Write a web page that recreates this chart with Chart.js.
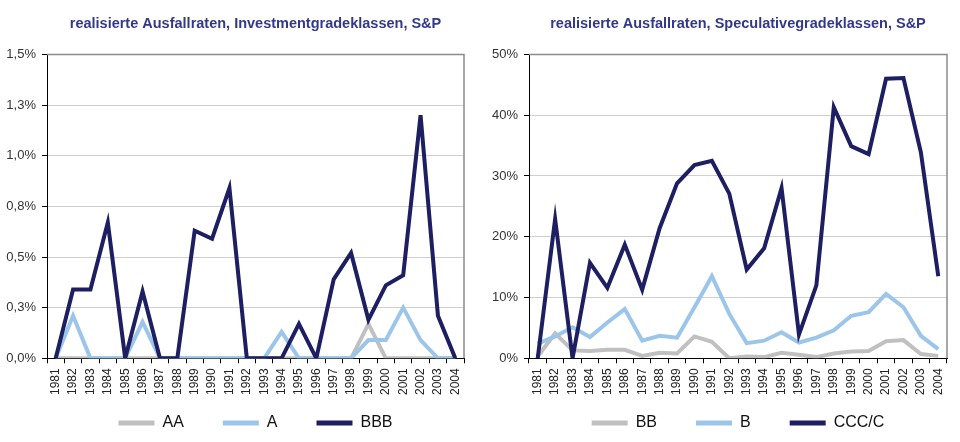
<!DOCTYPE html>
<html>
<head>
<meta charset="utf-8">
<script src="https://cdn.jsdelivr.net/npm/chart.js@4/dist/chart.umd.min.js"></script>
<style>
  body { margin: 0; background: #fff; }
  .wrap { display: flex; width: 960px; height: 442px; }
  .box { position: relative; width: 480px; height: 442px; }
</style>
</head>
<body>
<div class="wrap">
  <div class="box"><canvas id="chartInv"></canvas></div>
  <div class="box"><canvas id="chartSpec"></canvas></div>
</div>
<script>
// Jahre
const years = ['1981','1982','1983','1984','1985','1986','1987','1988','1989','1990','1991','1992',
               '1993','1994','1995','1996','1997','1998','1999','2000','2001','2002','2003','2004'];

// Investmentgrade (in %)
const aa  = [0,0,0,0,0,0,0,0,0,0,0,0,0,0,0,0,0,0,0.17,0,0,0,0,0];
const a   = [0,0.21,0,0,0,0.18,0,0,0,0,0,0,0,0.13,0,0,0,0,0.09,0.09,0.25,0.09,0,0];
const bbb = [0,0.34,0.34,0.67,0,0.33,0,0,0.63,0.59,0.84,0,0,0,0.17,0,0.39,0.52,0.19,0.36,0.41,1.2,0.21,0];

// Speculativegrade (in %)
const bb  = [0.3,4.1,1.3,1.2,1.4,1.4,0.4,0.9,0.8,3.6,2.7,0,0.3,0.2,0.9,0.6,0.2,0.8,1.1,1.2,2.8,3.0,0.7,0.4];
const b   = [2.4,3.6,5.1,3.5,5.9,8.1,2.9,3.7,3.4,8.4,13.5,7.3,2.5,2.9,4.3,2.6,3.4,4.6,7.0,7.6,10.6,8.4,3.7,1.5];
const ccc = [0,22.9,0,15.7,11.6,18.7,11.3,21.4,28.8,31.8,32.5,27.1,14.6,18.1,28.0,3.9,12.0,41.3,34.9,33.6,46.0,46.1,33.9,13.5];

// Achsenbeschriftungen
const invTicks  = ['0,0%','0,3%','0,5%','0,8%','1,0%','1,3%','1,5%'];
const specTicks = ['0%','10%','20%','30%','40%','50%'];

const GREY = '#c0c0c0';
const LIGHT = '#9cc5ea';
const NAVY = '#1e1e62';
const FONT = '"Liberation Sans", Arial, sans-serif';
const GAP = '\u2003\u2002'; // Abstand zwischen Legendeneinträgen

// Rahmen um die Zeichenfläche (grau oben/rechts)
const frame = {
  id: 'frame',
  beforeDatasetsDraw(chart) {
    const c = chart.ctx, ar = chart.chartArea;
    c.save();
    c.strokeStyle = '#8a8a8a';
    c.lineWidth = 1.5;
    c.beginPath();
    c.moveTo(ar.left, ar.top);
    c.lineTo(ar.right, ar.top);
    c.lineTo(ar.right, ar.bottom);
    c.stroke();
    c.restore();
  }
};

function ds(label, data, color, order) {
  return {
    label: label, data: data, order: order,
    borderColor: color, backgroundColor: color,
    borderWidth: 4, pointRadius: 0, tension: 0, fill: false
  };
}

function makeChart(id, title, sets, max, step, tickLabels, yWidth, padRight) {
  return new Chart(document.getElementById(id), {
    type: 'line',
    data: { labels: years, datasets: sets },
    plugins: [frame],
    options: {
      responsive: true,
      maintainAspectRatio: false,
      animation: false,
      layout: { padding: { left: 0, right: padRight, top: 0, bottom: 1 } },
      plugins: {
        title: {
          display: true, text: title, color: '#33398a', fullSize: false,
          font: { family: FONT, size: 14.5, weight: 'bold' },
          padding: { top: 15, bottom: 22 }
        },
        legend: {
          position: 'bottom',
          fullSize: false,
          labels: {
            font: { family: FONT, size: 16 }, color: '#111',
            boxWidth: 36, boxHeight: 5, padding: 15,
            generateLabels(chart) {
              const items = Chart.defaults.plugins.legend.labels.generateLabels(chart);
              items.sort((x, y) => x.datasetIndex - y.datasetIndex);
              items.forEach((it, i) => {
                it.lineWidth = 0;
                if (i < items.length - 1) it.text += GAP;
              });
              return items;
            }
          }
        },
        tooltip: { enabled: false }
      },
      scales: {
        x: {
          offset: true,
          grid: { offset: true, drawOnChartArea: false, drawTicks: true, tickLength: 5, color: '#000' },
          border: { color: '#000', width: 1 },
          ticks: { font: { family: FONT, size: 12 }, color: '#222', maxRotation: 90, minRotation: 90, autoSkip: false, padding: 5 }
        },
        y: {
          min: 0, max: max,
          afterFit(scale) { scale.width = yWidth; },
          grid: { color: '#cfcfcf', tickColor: '#000', tickLength: 5 },
          border: { color: '#000', width: 1 },
          ticks: {
            stepSize: step, font: { family: FONT, size: 13 }, color: '#333', padding: 6,
            callback: (v, i) => tickLabels[i]
          }
        }
      }
    }
  });
}

// BBB / CCC/C liegt oben (kleinste order wird zuletzt gezeichnet)
const invSets = [ds('AA', aa, GREY, 3), ds('A', a, LIGHT, 2), ds('BBB', bbb, NAVY, 1)];
const specSets = [ds('BB', bb, GREY, 3), ds('B', b, LIGHT, 2), ds('CCC/C', ccc, NAVY, 1)];

makeChart('chartInv', 'realisierte Ausfallraten, Investmentgradeklassen, S&P', invSets, 1.5, 0.25, invTicks, 47, 16);
makeChart('chartSpec', 'realisierte Ausfallraten, Speculativegradeklassen, S&P', specSets, 50, 10, specTicks, 49, 13);
</script>
</body>
</html>
